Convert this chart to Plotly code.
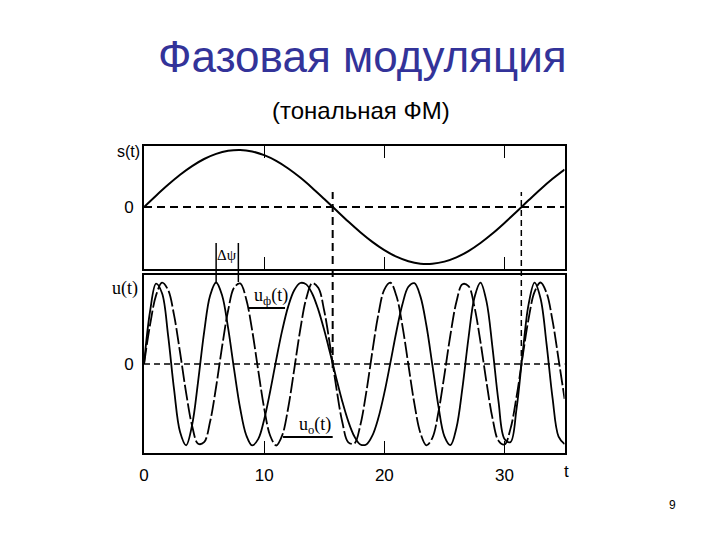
import plotly.graph_objects as go

# ---------------- data ----------------
# message signal s(t), sampled every 1 time unit (t = 0 .. 35)
t_slow = list(range(0, 36))
s_vals = [0, 0.199, 0.389, 0.565, 0.717, 0.842, 0.932, 0.985, 1.0, 0.974,
          0.909, 0.809, 0.676, 0.516, 0.335, 0.141, -0.058, -0.256, -0.443, -0.612,
          -0.757, -0.872, -0.952, -0.994, -0.996, -0.959, -0.884, -0.773, -0.631, -0.465,
          -0.279, -0.083, 0.117, 0.312, 0.494, 0.657]

# carrier u0(t) and phase-modulated uф(t), sampled every 0.5 time units (t = 0 .. 35)
t_fast = [k * 0.5 for k in range(71)]
u0_vals = [0, 0.479, 0.842, 0.998, 0.909, 0.599, 0.141, -0.351, -0.757, -0.978,
           -0.959, -0.706, -0.279, 0.215, 0.657, 0.938, 0.989, 0.799, 0.412, -0.075,
           -0.544, -0.880, -1.0, -0.876, -0.537, -0.066, 0.420, 0.804, 0.991, 0.935,
           0.650, 0.207, -0.288, -0.712, -0.961, -0.976, -0.751, -0.343, 0.150, 0.606,
           0.913, 0.997, 0.837, 0.472, -0.009, -0.487, -0.846, -0.998, -0.906, -0.591,
           -0.132, 0.359, 0.763, 0.979, 0.956, 0.699, 0.271, -0.224, -0.664, -0.941,
           -0.988, -0.793, -0.404, 0.084, 0.551, 0.884, 1.0, 0.872, 0.529, 0.058,
           -0.428]
uphi_vals = [0, 0.644, 0.985, 0.868, 0.355, -0.312, -0.835, -0.997, -0.750, -0.215,
             0.389, 0.841, 1.0, 0.840, 0.439, -0.070, -0.543, -0.871, -0.999, -0.922,
             -0.680, -0.334, 0.051, 0.412, 0.707, 0.905, 0.994, 0.977, 0.862, 0.667,
             0.413, 0.125, -0.174, -0.459, -0.704, -0.887, -0.987, -0.987, -0.879, -0.663,
             -0.355, 0.014, 0.396, 0.729, 0.948, 0.992, 0.830, 0.472, -0.016, -0.517,
             -0.887, -0.996, -0.783, -0.293, 0.316, 0.817, 0.999, 0.768, 0.202, -0.460,
             -0.920, -0.958, -0.550, 0.117, 0.729, 0.998, 0.804, 0.245, -0.418, -0.891,
             -0.983]

# zero crossings of s(t) marked with vertical dashed lines
s_zero_t = [15.7, 31.4]
# peaks of uф and u0 used for the Δψ marker
dpsi_t = [6.0, 7.85]

x_ticks = [0, 10, 20, 30]
x_tick_text = ["0", "10", "20", "30"]

# ---------------- figure ----------------
W, H = 720, 540
def px(x):
    return x / W
def py(y):
    return 1 - y / H

XDOM = [px(140), px(563.5)]
fig = go.Figure()

fig.add_trace(go.Scatter(x=t_slow, y=s_vals, mode="lines", xaxis="x2", yaxis="y2",
                         line=dict(color="black", width=2, shape="spline"),
                         showlegend=False, hoverinfo="skip"))
fig.add_trace(go.Scatter(x=t_fast, y=u0_vals, mode="lines", xaxis="x", yaxis="y",
                         line=dict(color="black", width=1.8, dash="16px,3px", shape="spline"),
                         showlegend=False, hoverinfo="skip"))
fig.add_trace(go.Scatter(x=t_fast, y=uphi_vals, mode="lines", xaxis="x", yaxis="y",
                         line=dict(color="black", width=1.8, shape="spline"),
                         showlegend=False, hoverinfo="skip"))

axis_common = dict(showline=True, linewidth=2, linecolor="black", showgrid=False,
                   zeroline=False)
tick_font = dict(family="Liberation Sans Narrow, Liberation Sans, Arial", size=17, color="black")

fig.update_layout(
    width=W, height=H,
    margin=dict(l=0, r=0, t=0, b=0),
    paper_bgcolor="white", plot_bgcolor="white",
    xaxis=dict(domain=XDOM, range=[0, 35], anchor="y", mirror=True,
               ticks="inside", ticklen=12, tickwidth=1, tickcolor="black",
               tickvals=x_ticks, ticktext=x_tick_text, tickfont=tick_font,
               ticklabelstandoff=6, **axis_common),
    yaxis=dict(domain=[py(453), py(275)], range=[-1.092, 1.092], anchor="x", mirror=True,
               ticks="", tickvals=[0], ticktext=["0"], tickfont=tick_font,
               ticklabelstandoff=5, **axis_common),
    xaxis2=dict(domain=XDOM, range=[0, 35], anchor="y2", matches="x", mirror="allticks",
                ticks="inside", ticklen=12, tickwidth=1, tickcolor="black",
                tickvals=[10, 20, 30], showticklabels=False, **axis_common),
    yaxis2=dict(domain=[py(269), py(146)], range=[-1.088, 1.07], anchor="x2", mirror=True,
                ticks="", tickvals=[0], ticktext=["0"], tickfont=tick_font,
                ticklabelstandoff=5, **axis_common),
)

shapes = []
# zero reference lines
shapes.append(dict(type="line", xref="x2", yref="y2", x0=0, x1=35, y0=0, y1=0,
                   line=dict(color="black", width=2, dash="8px,5px")))
shapes.append(dict(type="line", xref="x", yref="y", x0=0, x1=35, y0=0, y1=0,
                   line=dict(color="black", width=1.5, dash="6px,4px")))
# vertical dashed markers at zero crossings of s(t)
shapes.append(dict(type="line", xref="x", yref="paper", x0=s_zero_t[0], x1=s_zero_t[0],
                   y0=py(368), y1=py(192), line=dict(color="black", width=2, dash="8px,5px")))
shapes.append(dict(type="line", xref="x", yref="paper", x0=s_zero_t[1], x1=s_zero_t[1],
                   y0=py(366), y1=py(192), line=dict(color="black", width=1.5, dash="6px,4px")))
# Δψ marker lines
for tt in dpsi_t:
    shapes.append(dict(type="line", xref="x", yref="paper", x0=tt, x1=tt,
                       y0=py(282), y1=py(243), line=dict(color="black", width=1.5)))
# label underline strokes
shapes.append(dict(type="line", xref="paper", yref="paper", x0=px(245), x1=px(282),
                   y0=py(308), y1=py(308), line=dict(color="black", width=2)))
shapes.append(dict(type="line", xref="paper", yref="paper", x0=px(280), x1=px(330),
                   y0=py(437), y1=py(437), line=dict(color="black", width=2)))
fig.update_layout(shapes=shapes)

serif = "Liberation Serif, Times New Roman, serif"
sans = "Liberation Sans, Arial, sans-serif"
ann = []
ann.append(dict(text="Фазовая модуляция", x=px(360), y=py(57), xref="paper", yref="paper",
                showarrow=False, xanchor="center", yanchor="middle",
                font=dict(family=sans, size=44, color="#333399")))
ann.append(dict(text="(тональная ФМ)", x=px(358), y=py(110), xref="paper", yref="paper",
                showarrow=False, xanchor="center", yanchor="middle",
                font=dict(family=sans, size=24, color="black")))
ann.append(dict(text="9", x=px(672), y=py(505), xref="paper", yref="paper",
                showarrow=False, xanchor="center", yanchor="middle",
                font=dict(family=sans, size=12, color="black")))
ann.append(dict(text="s(t)", x=px(124), y=py(151), xref="paper", yref="paper",
                showarrow=False, xanchor="center", yanchor="middle",
                font=dict(family=tick_font["family"], size=16, color="black")))
ann.append(dict(text="u(t)", x=px(121), y=py(288), xref="paper", yref="paper",
                showarrow=False, xanchor="center", yanchor="middle",
                font=dict(family=serif, size=18, color="black")))
ann.append(dict(text="t", x=px(565), y=py(471), xref="paper", yref="paper",
                showarrow=False, xanchor="center", yanchor="middle",
                font=tick_font))
ann.append(dict(text="Δψ", x=sum(dpsi_t) / 2, y=py(255), xref="x", yref="paper",
                showarrow=False, xanchor="center", yanchor="middle",
                font=dict(family=serif, size=15, color="black")))
ann.append(dict(text="u<sub>ф</sub>(t)", x=px(268), y=py(296), xref="paper", yref="paper",
                showarrow=False, xanchor="center", yanchor="middle",
                font=dict(family=serif, size=18, color="black")))
ann.append(dict(text="u<sub>o</sub>(t)", x=px(312), y=py(425), xref="paper", yref="paper",
                showarrow=False, xanchor="center", yanchor="middle",
                font=dict(family=serif, size=18, color="black")))
fig.update_layout(annotations=ann)

fig.write_html("out.html", config={"displayModeBar": False},
               post_script="document.body.style.margin='0';")
